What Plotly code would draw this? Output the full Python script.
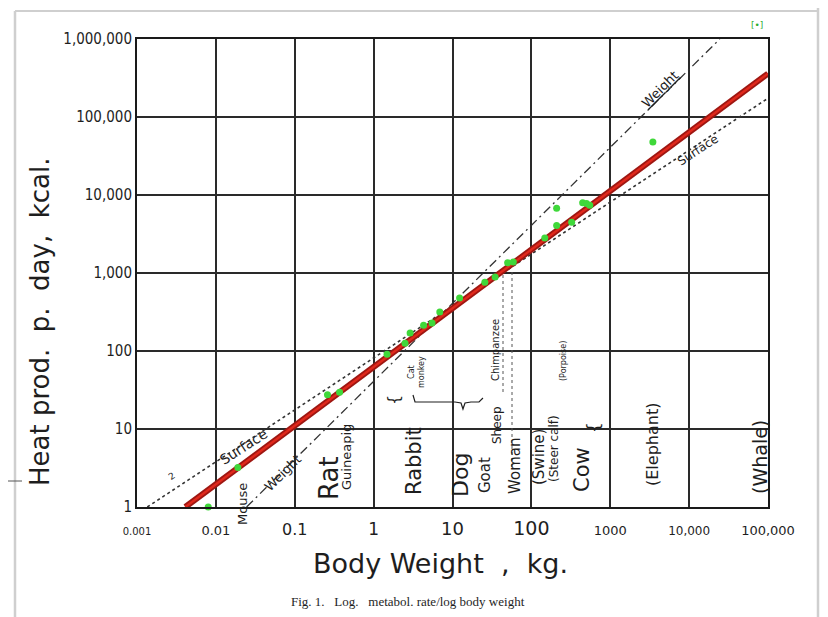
import plotly.graph_objects as go

# ---------------- data ----------------
weights_kg = [0.008, 0.019, 0.26, 0.37, 1.48, 2.5, 2.9, 4.3, 5.5, 6.9, 12.3, 25.7,
              34.7, 50, 59, 148, 209, 209, 324, 447, 500, 550, 3470]
heat_kcal = [1.0, 3.2, 27.5, 29.5, 91, 126, 170, 214, 229, 316, 479, 759,
             891, 1350, 1380, 2820, 4070, 6760, 4470, 7940, 7760, 7410, 47900]

kleiber_w = [0.0041, 100000]
kleiber_kcal = [1, 360000]
weight_line_w = [0.0245, 24500]
weight_line_kcal = [1, 1000000]
surface_line_w = [0.00135, 100000]
surface_line_kcal = [1, 174000]

x_tickvals = [0.001, 0.01, 0.1, 1, 10, 100, 1000, 10000, 100000]
x_ticktext = ["0.001", "0.01", "0.1", "1", "10", "100", "1000", "10,000", "100,000"]
y_tickvals = [1, 10, 100, 1000, 10000, 100000, 1000000]
y_ticktext = ["1", "10", "100", "1,000", "10,000", "100,000", "1,000,000"]

# ---------------- layout helpers ----------------
# the page has an 8px body margin, so the figure starts at (8, 8) in the window
W, H = 820, 609
# plot area in window pixels
PL, PR, PT, PB = 137, 768, 39, 507
OFF = 8
L, T = PL - OFF, PT - OFF
R, B = W - (PR - OFF), H - (PB - OFF)
PW, PH = PR - PL, PB - PT


def px(xp):
    return (xp - PL) / PW


def py(yp):
    return (PB - yp) / PH


HAND = "DejaVu Sans, Noto Sans, sans-serif"
NARROW = "Liberation Sans Narrow, DejaVu Sans Condensed, sans-serif"
INK = "#1e1e1e"
NB = "\u00a0"

x_sizes = [10, 13, 16, 17, 18, 19, 13, 12, 13]
x_labels = [f'<span style="font-size:{s}px">{t}</span>' for t, s in zip(x_ticktext, x_sizes)]

fig = go.Figure()

# reference lines
fig.add_trace(go.Scatter(x=surface_line_w, y=surface_line_kcal, mode="lines",
                         line=dict(color="#333", width=1.6, dash="dot"), hoverinfo="skip"))
fig.add_trace(go.Scatter(x=weight_line_w, y=weight_line_kcal, mode="lines",
                         line=dict(color="#333", width=1.3, dash="9px,4px,2px,4px"), hoverinfo="skip"))
# Kleiber line (red)
fig.add_trace(go.Scatter(x=kleiber_w, y=kleiber_kcal, mode="lines",
                         line=dict(color="#9e1712", width=6), hoverinfo="skip"))
fig.add_trace(go.Scatter(x=kleiber_w, y=kleiber_kcal, mode="lines",
                         line=dict(color="#e0281c", width=2.4), hoverinfo="skip"))
# data points
fig.add_trace(go.Scatter(x=weights_kg, y=heat_kcal, mode="markers",
                         marker=dict(color="#3fd83a", size=7, line=dict(width=0)),
                         cliponaxis=False))

annotations = []


def ann(text, xp, yp, size, angle=-90, family=HAND, color=INK, **kw):
    annotations.append(dict(text=text, x=px(xp), y=py(yp), xref="paper", yref="paper",
                            showarrow=False, textangle=angle,
                            font=dict(family=family, size=size, color=color),
                            xanchor="center", yanchor="middle", **kw))


# axis titles and caption
ann(f"Heat prod.{NB}{NB}p.{NB}{NB}day,{NB}{NB}kcal.", 40, 322, 26)
ann(f"Body Weight{NB}{NB},{NB}{NB}kg.", 440, 563, 27, angle=0)
ann(f"Fig. 1.{NB}{NB}{NB}Log.{NB}{NB}{NB}metabol. rate/log body weight", 408, 601, 13, angle=0,
    family="Liberation Serif, DejaVu Serif, serif")

# animal labels (vertical)
ann("Mouse", 242, 504, 13)
ann("Rat", 329, 478, 26)
ann("Guineapig", 346, 457, 13)
ann("Rabbit", 414, 461, 21)
ann("{", 393, 400, 16)
ann("Cat<br>monkey", 416, 372, 8)
ann("Dog", 460, 475, 22)
ann("Goat", 485, 475, 15)
ann("Sheep", 497, 425, 12)
ann("Woman", 515, 466, 15)
ann("Chimpanzee", 495, 350, 10)
ann("(Swine)", 539, 457, 15)
ann("(Steer calf)", 554, 449, 12)
ann("(Porpoise)", 563, 361, 8)
ann("Cow", 582, 470, 21)
ann("{", 594, 428, 17)
ann("(Elephant)", 652, 445, 16)
ann("(Whale)", 760, 457, 19)

# line labels
ann("Surface", 243, 447, 14, angle=-33)
ann("2", 172, 476, 9, angle=-33)
ann("Weight", 282, 473, 13, angle=-45)
ann("<u>Weight</u>", 660, 90, 13, angle=-45)
ann("Surface", 698, 150, 12, angle=-33)
ann("[•]", 757, 25, 9, angle=0, color="#2fae2f")

# decorations
shapes = []


def seg(x0, y0, x1, y1, color, width, dash=None):
    shapes.append(dict(type="line", xref="paper", yref="paper",
                       x0=px(x0), y0=py(y0), x1=px(x1), y1=py(y1),
                       line=dict(color=color, width=width, dash=dash)))


# frame of the scanned picture
seg(15, 11, 818, 11, "#cfcfcf", 2)
seg(15, 11, 15, 620, "#cfcfcf", 2.5)
seg(818, 8, 818, 620, "#cfcfcf", 2.5)
seg(8, 481, 22, 481, "#555", 1)
# dotted pointer lines to the chimpanzee / woman points
seg(503, 275, 503, 395, "#555", 1, "dot")
seg(512, 272, 512, 470, "#555", 1, "dot")

# horizontal brace under cat/monkey
pts = [(413, 395), (415, 402), (425, 402), (455, 402), (461, 403), (463, 409),
       (465, 403), (471, 402), (479, 402), (483, 398)]
path = "M " + " L ".join(f"{px(a):.4f},{py(b):.4f}" for a, b in pts)
shapes.append(dict(type="path", xref="paper", yref="paper", path=path,
                   line=dict(color=INK, width=1.2)))

fig.update_layout(
    width=W, height=H,
    margin=dict(l=L, r=R, t=T, b=B),
    paper_bgcolor="white", plot_bgcolor="white",
    showlegend=False,
    annotations=annotations,
    shapes=shapes,
    xaxis=dict(type="log", range=[-3, 5], tickvals=x_tickvals, ticktext=x_labels,
               showgrid=True, gridcolor="#2a2a2a", gridwidth=1.6,
               showline=True, linecolor="#1a1a1a", linewidth=2, mirror=True,
               ticks="", ticklabelstandoff=12, zeroline=False,
               tickfont=dict(family=HAND, color=INK)),
    yaxis=dict(type="log", range=[0, 6], tickvals=y_tickvals, ticktext=y_ticktext,
               showgrid=True, gridcolor="#2a2a2a", gridwidth=1.6,
               showline=True, linecolor="#1a1a1a", linewidth=2, mirror=True,
               ticks="", zeroline=False,
               tickfont=dict(family=NARROW, size=15, color=INK)),
)

fig.write_html("out.html")
